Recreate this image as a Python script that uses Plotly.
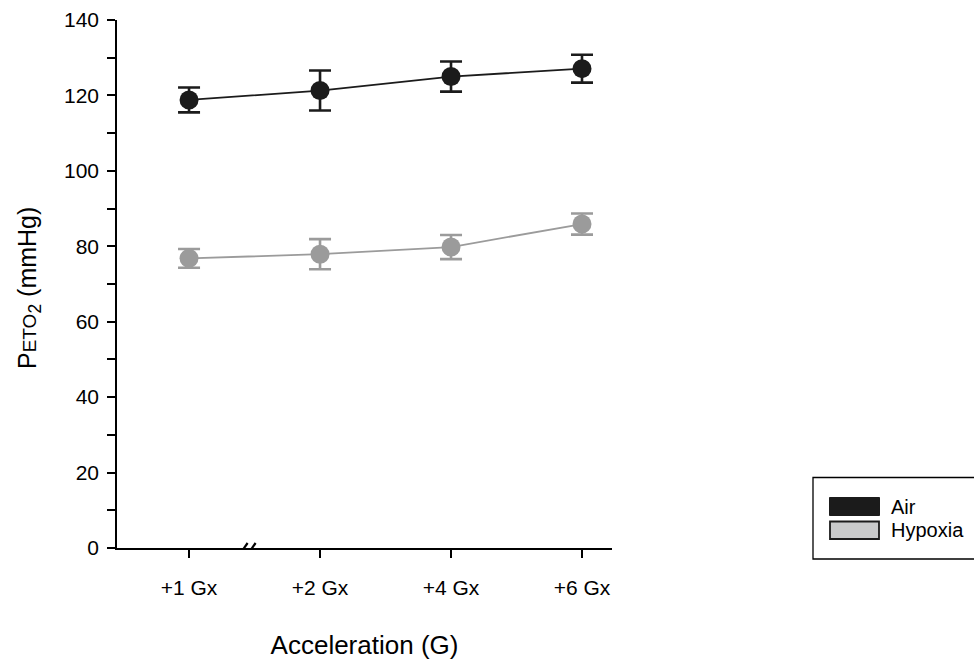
import plotly.graph_objects as go

categories = ["+1 Gx", "+2 Gx", "+4 Gx", "+6 Gx"]
air_mean = [118.8, 121.3, 125.0, 127.1]
air_err = [3.3, 5.3, 4.0, 3.7]
hyp_mean = [76.8, 77.9, 79.8, 85.9]
hyp_err = [2.5, 4.0, 3.2, 2.8]
series_names = ["Air", "Hypoxia"]
y_ticks = [0, 20, 40, 60, 80, 100, 120, 140]

W, H = 974, 660
L, R, T, B = 117, 362, 20, 112
FONT = "Liberation Sans, Arial, Helvetica, sans-serif"

xpos = list(range(1, len(categories) + 1))

AIR_C = "#1b1b1b"
HYP_C = "#9b9b9b"

fig = go.Figure()
for name, mean, err, col in [
    (series_names[0], air_mean, air_err, AIR_C),
    (series_names[1], hyp_mean, hyp_err, HYP_C),
]:
    fig.add_trace(go.Scatter(
        x=xpos, y=mean, name=name, mode="lines+markers",
        line=dict(color=col, width=1.8),
        marker=dict(color=col, size=19, line=dict(width=0)),
        error_y=dict(type="data", array=err, visible=True, color=col,
                     thickness=2.6, width=11),
        showlegend=False,
    ))

fig.update_xaxes(
    range=[0.45, 4.229], tickvals=xpos, ticktext=categories,
    showline=True, linecolor="black", linewidth=1.5,
    ticks="outside", ticklen=8, tickwidth=1.5, tickcolor="black",
    showgrid=False, zeroline=False, automargin=False,
    tickfont=dict(family=FONT, size=21, color="black"),
    ticklabelstandoff=12,
    title=dict(text="Acceleration (G)", font=dict(family=FONT, size=26, color="black"), standoff=38),
)
fig.update_yaxes(
    range=[0, 140], tickvals=y_ticks,
    showline=True, linecolor="black", linewidth=1.5,
    ticks="outside", ticklen=8, tickwidth=1.5, tickcolor="black",
    minor=dict(dtick=10, ticks="outside", ticklen=8, tickwidth=1.5, tickcolor="black"),
    showgrid=False, zeroline=False, automargin=False,
    tickfont=dict(family=FONT, size=21, color="black"),
    ticklabelstandoff=4,
)

pw, ph = W - L - R, H - T - B
def px(xp):
    return (xp - L) / pw
def py(yp):
    return 1 - (yp - T) / ph

# y-axis title (placed as a rotated annotation for exact position)
fig.add_annotation(xref="paper", yref="paper", x=px(29), y=py(288),
                   text="P<span style='font-size:19px'>ETO</span><sub>2</sub> (mmHg)",
                   textangle=-90, showarrow=False, xanchor="center", yanchor="middle",
                   font=dict(family=FONT, size=25, color="black"))

# axis break marks
for x0, x1 in [(-10, -3), (-2, 5)]:
    fig.add_shape(type="line", xref="x", yref="y", xsizemode="pixel", ysizemode="pixel",
                  xanchor=1.47, yanchor=0, x0=x0, x1=x1, y0=-5, y1=5,
                  line=dict(color="black", width=2.2))

# legend drawn with paper-coordinate shapes
fig.add_shape(type="rect", xref="paper", yref="paper",
              x0=px(813), x1=px(990), y0=py(559), y1=py(477.5),
              line=dict(color="black", width=1.3), fillcolor="white")
fig.add_shape(type="rect", xref="paper", yref="paper",
              x0=px(829.5), x1=px(879.5), y0=py(515.5), y1=py(497.5),
              line=dict(color="#1b1b1b", width=1), fillcolor="#1b1b1b")
fig.add_shape(type="rect", xref="paper", yref="paper",
              x0=px(830), x1=px(879), y0=py(539), y1=py(521.5),
              line=dict(color="#1b1b1b", width=1.8), fillcolor="#c9cacb")
for label, yc in [(series_names[0], 506.5), (series_names[1], 530)]:
    fig.add_annotation(xref="paper", yref="paper", x=px(889), y=py(yc),
                       text=label, showarrow=False, xanchor="left", yanchor="middle",
                       font=dict(family=FONT, size=20, color="black"))

fig.update_layout(
    width=W, height=H, margin=dict(l=L, r=R, t=T, b=B, autoexpand=False),
    paper_bgcolor="white", plot_bgcolor="white",
    font=dict(family=FONT, color="black"),
)

fig.write_html("out.html")
